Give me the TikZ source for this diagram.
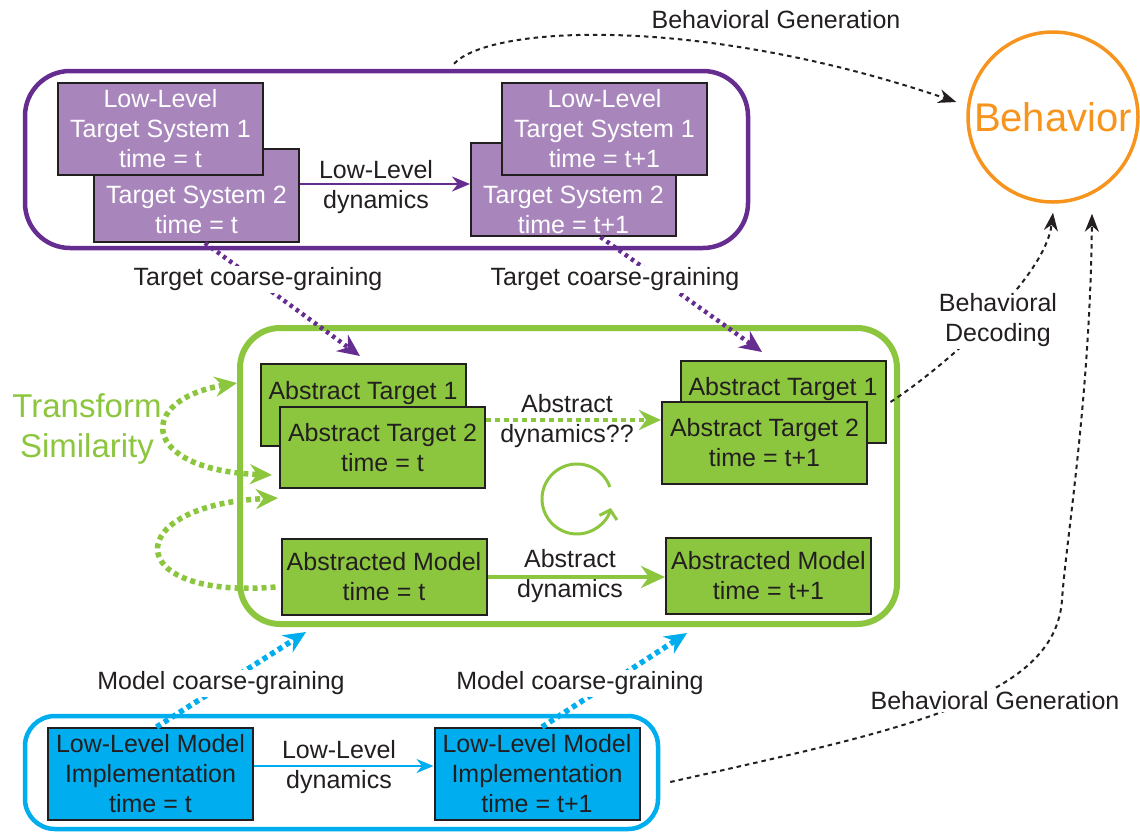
\documentclass[tikz,border=0pt]{standalone}
\usepackage{fontspec}
\setmainfont{Liberation Sans}
\usetikzlibrary{arrows.meta}
\definecolor{purp}{HTML}{662D91}
\definecolor{lilac}{HTML}{A886BC}
\definecolor{leaf}{HTML}{8CC63F}
\definecolor{sky}{HTML}{00AEEF}
\definecolor{amber}{HTML}{F7941D}
\definecolor{ink}{HTML}{231F20}
\begin{document}
\begin{tikzpicture}[x=1pt, y=-1pt, font=\fontsize{25}{30}\selectfont, text=ink,
  box/.style={draw=ink, line width=2pt, minimum width=205pt, inner sep=0pt, align=center},
  pbox/.style={box, fill=lilac, text=white, minimum height=93pt},
  gbox/.style={box, fill=leaf, minimum height=82pt},
  bbox/.style={box, fill=sky, minimum height=92pt},
  zone/.style={rounded corners=#1, inner sep=0pt},
  lbl/.style={align=center, inner sep=1pt},
  cover/.style={lbl, fill=white, inner sep=2pt},
  dots/.style={line width=5pt, dash pattern=on 5pt off 4pt},
  bigtip/.style={-{Stealth[length=22pt, width=20pt]}},
  gen/.style={ink, line width=2pt, dash pattern=on 4.5pt off 4pt, -{Stealth[length=18pt, width=14pt]}}]
\useasboundingbox (0,0) rectangle (1140,831);

\node[zone=45pt, draw=purp, line width=4.5pt, minimum width=723pt, minimum height=177pt] (pzone) at (386.5,159.5) {};
\node[zone=40pt, draw=leaf, line width=6pt, minimum width=657pt, minimum height=296pt] (gzone) at (568.5,476) {};
\node[zone=30pt, draw=sky, line width=4.5pt, minimum width=633pt, minimum height=113pt] (bzone) at (341.5,772.5) {};

\node[pbox] (lts2a) at (196.5,195.5) {};
\node[lbl, text=white] (lts2atxt) at (196.5,209.5) {Target System 2\\time = t};
\node[pbox, minimum height=92pt] (lts1a) at (160.5,129) {Low-Level\\Target System 1\\time = t};
\node[pbox] (lts2b) at (573.5,189.5) {};
\node[lbl, text=white] (lts2btxt) at (573.5,210) {Target System 2\\time = t+1};
\node[pbox, minimum height=92pt] (lts1b) at (604.5,129) {Low-Level\\Target System 1\\time = t+1};

\node[gbox] (at1a) at (363,405) {};
\node[lbl] (at1atxt) at (363,393) {Abstract Target 1};
\node[gbox, minimum height=81pt] (at2a) at (382.5,447.5) {Abstract Target 2\\time = t};
\node[gbox] (at1b) at (783,402) {};
\node[lbl] (at1btxt) at (783,389) {Abstract Target 1};
\node[gbox] (at2b) at (764.5,443) {Abstract Target 2\\time = t+1};
\node[gbox, minimum height=76pt] (ama) at (384,577) {Abstracted Model\\time = t};
\node[gbox, minimum height=76pt] (amb) at (768.5,576) {Abstracted Model\\time = t+1};

\node[bbox] (llma) at (150.5,774) {Low-Level Model\\Implementation\\time = t};
\node[bbox] (llmb) at (537,774) {Low-Level Model\\Implementation\\time = t+1};

\node[circle, draw=amber, line width=3.5pt, minimum size=170pt, inner sep=0pt, text=amber,
  font=\fontsize{40}{48}\selectfont] (beh) at (1053,117) {Behavior};

\node[lbl] (ldyn1) at (376,187) {Low-Level\\dynamics};
\node[lbl] (ldyn2) at (339,767) {Low-Level\\dynamics};
\node[lbl] (adyn1) at (567,421) {Abstract\\dynamics??};
\node[lbl] (adyn2) at (570,576) {Abstract\\dynamics};
\node[lbl, text=leaf, font=\fontsize{33}{40}\selectfont] (tsim) at (87,428.5) {Transform\\Similarity};
\node[lbl] (bgen1) at (776,20) {Behavioral Generation};

\coordinate (gtip1) at (306,632);
\coordinate (gtip2) at (687,633);
\coordinate (cyc) at (577,499);
\coordinate (bgtip1) at ([shift={(-10pt,15pt)}]beh.west);

\draw[purp, line width=2.5pt, -{Stealth[length=18pt, width=15pt]}] ([yshift=11.5pt]lts2a.east) -- ([yshift=5.5pt]lts2b.west);
\draw[leaf, line width=4pt, -{Stealth[length=24pt, width=22pt]}] (ama.east) -- (ama.east -| amb.west);
\draw[sky, line width=2pt, -{Stealth[length=17pt, width=14pt]}] ([yshift=8pt]llma.east) -- ([yshift=8pt]llmb.west);
\draw[leaf, dots, line width=4.5pt, bigtip] ([yshift=27.5pt]at2a.east) -- ([yshift=23pt]at2b.west);

\draw[purp, dots, line width=4.5pt, dash pattern=on 3.5pt off 4pt, bigtip] ([xshift=8.5pt]lts2a.south) -- ([shift={(-3pt,7pt)}]at1a.north);
\draw[purp, dots, line width=4.5pt, dash pattern=on 3.5pt off 4pt, bigtip] ([xshift=27pt]lts2b.south) -- ([shift={(-21pt,8pt)}]at1b.north);
\draw[sky, dots, line width=5.5pt, bigtip] ([xshift=6pt]llma.north) -- (gtip1);
\draw[sky, dots, line width=5.5pt, bigtip] ([xshift=5pt]llmb.north) -- (gtip2);

\draw[leaf, dots, line width=5.5pt, {Stealth[length=22pt, width=20pt]}-{Stealth[length=22pt, width=20pt]}]
  ([yshift=93pt]gzone.west) .. controls (135,400) and (140,470) .. ([shift={(-7pt,-27.5pt)}]at2a.west);
\draw[leaf, dots, line width=5.5pt, bigtip]
  ([shift={(-5pt,-10pt)}]ama.west) .. controls (120,600) and (120,505) .. ([shift={(-1pt,-9pt)}]at2a.south west);
\draw[leaf, line width=3pt, -{Straight Barb[length=8pt, width=18pt]}] ([shift={(32.9pt,12pt)}]cyc) arc[start angle=20, end angle=345, radius=35pt];

\draw[gen] ([shift={(67.5pt,5pt)}]pzone.north) .. controls (490,25) and (700,15) .. (bgtip1);
\draw[gen] ([xshift=4pt]at1b.east) .. controls (940,370) and (1045,280) .. ([yshift=-9pt]beh.south);
\draw[gen] ([shift={(10pt,-9.5pt)}]bzone.east) .. controls (900,730) and (1055,700) .. (1062,600)
  .. controls (1066,540) and (1090,400) .. ([shift={(39pt,-10pt)}]beh.south);

\node[cover] (tcg1) at (258,279.5) {Target coarse-graining};
\node[cover] (tcg2) at (615,279.5) {Target coarse-graining};
\node[cover] (mcg1) at (221,683.5) {Model coarse-graining};
\node[cover] (mcg2) at (580,683.5) {Model coarse-graining};
\node[cover] (bdec) at (998,320) {Behavioral\\Decoding};
\node[cover] (bgen2) at (995,700.5) {Behavioral Generation};
\end{tikzpicture}
\end{document}
